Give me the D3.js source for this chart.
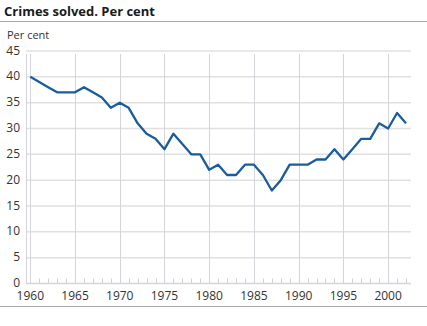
<!DOCTYPE html>
<html>
<head>
<meta charset="utf-8">
<script src="https://cdn.jsdelivr.net/npm/d3@7"></script>
<style>
  html, body { margin: 0; padding: 0; background: #fff; }
  svg { display: block; }
  text { font-family: "Open Sans", "Noto Sans", "DejaVu Sans", sans-serif; }
</style>
</head>
<body>
<svg id="chart" width="427" height="326"></svg>
<script>
// Share of reported crimes solved, per cent, 1960–2002
const years = d3.range(1960, 2003);
const solved = [40, 39, 38, 37, 37, 37, 38, 37, 36, 34,
                35, 34, 31, 29, 28, 26, 29, 27, 25, 25,
                22, 23, 21, 21, 23, 23, 21, 18, 20, 23,
                23, 23, 24, 24, 26, 24, 26, 28, 28, 31,
                30, 33, 31];
const yTicks = [0, 5, 10, 15, 20, 25, 30, 35, 40, 45];
const xTicks = [1960, 1965, 1970, 1975, 1980, 1985, 1990, 1995, 2000];
const titleText = "Crimes solved. Per cent";
const unitText = "Per cent";

const svg = d3.select("#chart");
const W = 427;

const x = d3.scaleLinear().domain([1960, 2002]).range([30.3, 406]);
const y = d3.scaleLinear().domain([0, 45]).range([283.5, 51]);
const plotLeft = 26, plotRight = 411;

// Title and rules
svg.append("text").attr("x", 4).attr("y", 16)
  .attr("font-size", 13).attr("font-weight", "bold").attr("fill", "#1a1a1a")
  .text(titleText);
svg.append("line").attr("x1", 0).attr("x2", W).attr("y1", 21.5).attr("y2", 21.5)
  .attr("stroke", "#a8a8a8").attr("stroke-width", 1);
svg.append("line").attr("x1", 0).attr("x2", W).attr("y1", 306.5).attr("y2", 306.5)
  .attr("stroke", "#a8a8a8").attr("stroke-width", 1);

svg.append("text").attr("x", 7).attr("y", 39)
  .attr("font-size", 11).attr("fill", "#333").text(unitText);

// Horizontal gridlines
svg.append("g").selectAll("line").data(yTicks.filter(d => d > 0)).join("line")
  .attr("x1", plotLeft).attr("x2", plotRight)
  .attr("y1", d => y(d)).attr("y2", d => y(d))
  .attr("stroke", "#e0e0e0").attr("stroke-width", 1.5);

// Vertical gridlines at labelled years
svg.append("g").selectAll("line").data(xTicks).join("line")
  .attr("x1", d => Math.round(x(d)) + 0.5).attr("x2", d => Math.round(x(d)) + 0.5)
  .attr("y1", 54).attr("y2", y(0))
  .attr("stroke", "#d4d4da").attr("stroke-width", 1);

// Left axis line
svg.append("line").attr("x1", plotLeft + 0.5).attr("x2", plotLeft + 0.5)
  .attr("y1", 54).attr("y2", y(0))
  .attr("stroke", "#d4d4da").attr("stroke-width", 1);

// Minor year ticks
svg.append("g").selectAll("line").data(years.filter(d => !xTicks.includes(d))).join("line")
  .attr("x1", d => Math.round(x(d)) + 0.5).attr("x2", d => Math.round(x(d)) + 0.5)
  .attr("y1", y(0) - 5).attr("y2", y(0))
  .attr("stroke", "#d0d0d6").attr("stroke-width", 1);

// Baseline
svg.append("line").attr("x1", plotLeft).attr("x2", plotRight)
  .attr("y1", y(0)).attr("y2", y(0))
  .attr("stroke", "#d4d4da").attr("stroke-width", 1.5);

// Y labels
svg.append("g").selectAll("text").data(yTicks).join("text")
  .attr("x", 20).attr("y", d => y(d) + 3.5)
  .attr("text-anchor", "end").attr("font-size", 12).attr("fill", "#333")
  .text(d => d);

// X labels
svg.append("g").selectAll("text").data(xTicks).join("text")
  .attr("x", d => x(d)).attr("y", 299.5)
  .attr("text-anchor", "middle").attr("font-size", 12).attr("fill", "#333")
  .text(d => d);

// Data line
const line = d3.line().x((d, i) => x(years[i])).y(d => y(d));
svg.append("path").datum(solved)
  .attr("d", line)
  .attr("fill", "none").attr("stroke", "#1a5c9c")
  .attr("stroke-width", 2.3).attr("stroke-linejoin", "round");
</script>
</body>
</html>
